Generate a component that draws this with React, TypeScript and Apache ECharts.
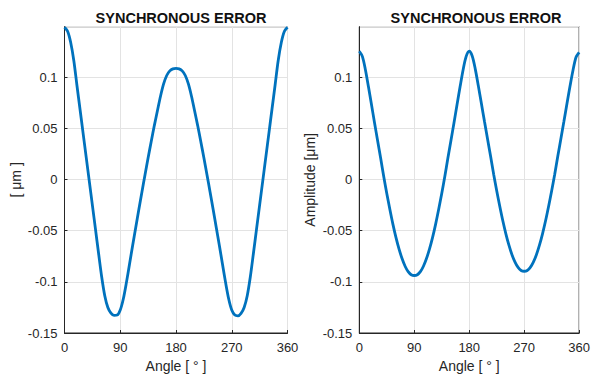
import React, { useEffect, useRef } from "react";
import * as echarts from "echarts";

const angles: number[] = [];
for (let a = 0; a <= 360; a += 5) angles.push(a);

// Left panel (μm), 0..180°, 185..360° read as the mirrored half
const leftFirstHalf = [
  0.149, 0.145, 0.134, 0.1165, 0.0925, 0.069, 0.0455, 0.022, -0.0015, -0.025,
  -0.0485, -0.072, -0.095, -0.1135, -0.125, -0.1305, -0.1328, -0.1325, -0.1275,
  -0.1165, -0.1005, -0.0825, -0.0645, -0.0468, -0.0293, -0.0121, 0.0048, 0.0213,
  0.0373, 0.0528, 0.0673, 0.0815, 0.0935, 0.1018, 0.1063, 0.1083, 0.1088,
];
const leftSecondHalf = [
  0.1083, 0.1063, 0.1018, 0.0935, 0.0815, 0.0673, 0.0528, 0.0373, 0.0213,
  0.0048, -0.0121, -0.0293, -0.0468, -0.0645, -0.0825, -0.1005, -0.1165,
  -0.1275, -0.1325, -0.1332, -0.1308, -0.125, -0.1135, -0.095, -0.072, -0.0485,
  -0.025, -0.0015, 0.022, 0.0455, 0.069, 0.0925, 0.1165, 0.134, 0.145, 0.149,
];
const leftValues = [...leftFirstHalf, ...leftSecondHalf];

// Right panel (μm)
const rightFirstHalf = [
  0.1255, 0.1205, 0.1075, 0.0907, 0.0731, 0.0554, 0.0379, 0.0208, 0.003,
  -0.0135, -0.029, -0.0435, -0.0565, -0.0678, -0.0772, -0.0847, -0.09, -0.093,
  -0.0938, -0.093, -0.09, -0.0847, -0.0772, -0.0678, -0.0565, -0.0435, -0.029,
  -0.0135, 0.003, 0.0208, 0.0379, 0.0554, 0.0731, 0.0907, 0.1075, 0.1205, 0.1255,
];
const rightSecondHalf = [
  0.1206, 0.1078, 0.0914, 0.0741, 0.0567, 0.0396, 0.0228, 0.0053, -0.0109,
  -0.0261, -0.0403, -0.053, -0.0641, -0.0734, -0.0807, -0.0859, -0.0889,
  -0.0896, -0.0889, -0.0859, -0.0807, -0.0734, -0.0641, -0.053, -0.0403,
  -0.0261, -0.0109, 0.0053, 0.0228, 0.0396, 0.0567, 0.0741, 0.0912, 0.1072,
  0.1198, 0.1245,
];
const rightValues = [...rightFirstHalf, ...rightSecondHalf];

const titles = ["SYNCHRONOUS ERROR", "SYNCHRONOUS ERROR"];
const yNames = ["[ \u03bcm ]", "Amplitude [\u03bcm]"];
const xName = "Angle [ \u00b0 ]";

const TEXT = "#262626";
const FONT = "Liberation Sans, Arial, sans-serif";

export default function App() {
  const ref = useRef<HTMLDivElement>(null);
  useEffect(() => {
    if (!ref.current) return;
    const chart = echarts.init(ref.current, null, { renderer: "svg" });
    const grids = [
      { left: 64.5, right: 305.5, top: 26.7, bottom: 44.7 },
      { left: 359.3, right: 10.5, top: 26.7, bottom: 44.7 },
    ];
    const mkX = (i: number) => ({
      type: "value",
      gridIndex: i,
      min: 0,
      max: 360,
      interval: 90,
      name: xName,
      nameLocation: "middle",
      nameGap: 26,
      nameTextStyle: { color: TEXT, fontSize: 14, fontFamily: FONT },
      axisLine: { show: true, onZero: false, lineStyle: { color: TEXT, width: 1 } },
      axisTick: { show: true, inside: true, length: 3, lineStyle: { color: TEXT } },
      axisLabel: { color: TEXT, fontSize: 13, fontFamily: FONT, margin: 8 },
      splitLine: { show: true, lineStyle: { color: "#e3e3e3", width: 1 } },
    });
    const mkY = (i: number) => ({
      type: "value",
      gridIndex: i,
      min: -0.15,
      max: 0.1495,
      interval: 0.05,
      name: yNames[i],
      nameLocation: "middle",
      nameGap: 42,
      nameTextStyle: { color: TEXT, fontSize: 14, fontFamily: FONT },
      axisLine: { show: true, onZero: false, lineStyle: { color: TEXT, width: 1 } },
      axisTick: { show: true, inside: true, length: 3, lineStyle: { color: TEXT } },
      axisLabel: {
        color: TEXT,
        fontSize: 13,
        fontFamily: FONT,
        margin: 7,
        showMaxLabel: false,
        formatter: (v: number) => String(parseFloat(v.toFixed(3))),
      },
      splitLine: { show: true, lineStyle: { color: "#e3e3e3", width: 1 } },
    });
    const titleStyle = { color: "#111", fontSize: 14.5, fontWeight: "bold", fontFamily: FONT };
    chart.setOption({
      animation: false,
      backgroundColor: "#ffffff",
      title: [
        { text: titles[0], left: 176, top: 5, textAlign: "center", textStyle: titleStyle },
        { text: titles[1], left: 471, top: 5, textAlign: "center", textStyle: titleStyle },
      ],
      grid: grids.map((g) => ({
        ...g,
        show: true,
        borderColor: TEXT,
        borderWidth: 1,
        backgroundColor: "transparent",
      })),
      xAxis: [mkX(0), mkX(1)],
      yAxis: [mkY(0), mkY(1)],
      series: [
        {
          type: "line",
          xAxisIndex: 0,
          yAxisIndex: 0,
          data: angles.map((a, k) => [a, leftValues[k]]),
          showSymbol: false,
          smooth: 0.3,
          clip: false,
          lineStyle: { color: "#0072BD", width: 2.8 },
        },
        {
          type: "line",
          xAxisIndex: 1,
          yAxisIndex: 1,
          data: angles.map((a, k) => [a, rightValues[k]]),
          showSymbol: false,
          smooth: 0.3,
          clip: false,
          lineStyle: { color: "#0072BD", width: 2.8 },
        },
      ],
    });
    return () => chart.dispose();
  }, []);
  return (
    <div
      ref={ref}
      style={{ position: "fixed", left: 0, top: 0, width: 593, height: 378, background: "#fff" }}
    />
  );
}
